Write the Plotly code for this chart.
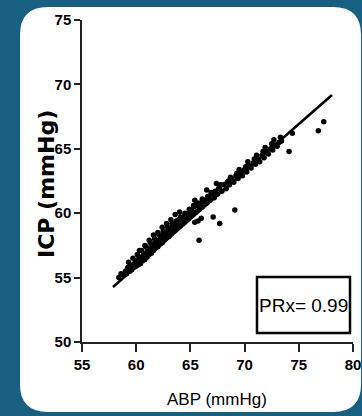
import plotly.graph_objects as go

# ---- data ----
abp = [58.4, 58.6, 58.8, 59.0, 59.1, 59.2, 59.4, 59.5,
       59.6, 59.7, 59.8, 59.9, 60.0, 60.1, 60.2, 60.3, 60.4, 60.5, 60.6, 60.7, 60.8, 60.9, 61.0,
       61.1, 61.2, 61.3, 61.4, 61.5, 61.6, 61.7, 61.8, 61.9, 62.0, 62.1, 62.2, 62.3, 62.4, 62.5,
       62.6, 62.7, 62.8, 62.9, 63.0,
       63.1, 63.2, 63.3, 63.4, 63.5, 63.6, 63.7, 63.8, 63.9, 64.0, 64.2, 64.3, 64.5, 64.6, 64.8, 64.9,
       65.0, 65.2, 65.3, 65.5, 65.6, 65.8, 66.0, 66.1, 66.3, 66.5, 66.6, 66.8, 67.0, 67.2, 67.3, 67.5,
       67.7, 67.9,
       68.1, 68.3, 68.4, 68.6, 68.8, 69.0, 69.2, 69.4, 69.6, 69.8, 70.0, 70.2, 70.4, 70.6, 70.8,
       71.0, 71.2, 71.4, 71.6, 71.8, 72.0, 72.2, 72.4, 72.6, 72.8, 73.0, 73.2, 73.4,
       59.3, 59.7, 60.1, 60.5, 60.9, 61.3, 61.7, 62.1, 62.5, 62.9, 63.3, 63.7, 64.1, 64.5, 64.9,
       65.3, 65.7, 66.1, 66.9, 67.8, 68.7, 69.5, 70.3, 71.1, 71.9, 72.7,
       59.25, 59.55, 60.25, 60.65, 61.05, 61.45, 61.85, 62.25, 62.65, 63.05, 63.45, 63.85, 64.25,
       64.65, 65.1, 65.9, 66.7, 67.6, 68.5, 69.3, 70.1, 70.9, 71.7, 72.5, 73.3,
       60.3, 60.8, 61.2, 61.6, 62.0, 62.4, 62.8, 63.2, 63.6, 64.0,
       65.4, 66.5, 67.4,
       65.8, 65.7, 65.4, 66.0, 67.1, 67.7, 69.1, 74.1, 74.4, 76.8, 77.3]
icp = [55.0, 55.3, 55.2, 55.5, 55.3, 55.7, 55.5, 55.9,
       55.6, 56.0, 55.8, 56.2, 55.9, 56.3, 56.0, 56.5, 56.1, 56.6, 56.3, 56.8, 56.4, 56.9, 56.6,
       57.1, 56.8, 57.3, 56.9, 57.5, 57.1, 57.6, 57.3, 57.8, 57.4, 57.9, 57.6, 58.1, 57.7, 58.3,
       57.9, 58.4, 58.1, 58.6, 58.2,
       58.8, 58.4, 58.9, 58.6, 59.1, 58.8, 59.3, 59.0, 59.5, 59.1, 59.6, 59.3, 59.8, 59.5, 60.0, 59.7,
       60.2, 59.9, 60.5, 60.1, 60.6, 60.3, 60.8, 60.5, 61.0, 60.8, 61.3, 61.0, 61.5, 61.2, 61.7, 61.5,
       62.0, 61.7,
       62.2, 61.9, 62.4, 62.2, 62.7, 62.4, 62.9, 62.7, 63.2, 62.9, 63.4, 63.2, 63.7, 63.5, 63.9,
       63.8, 64.2, 64.0, 64.5, 64.3, 64.8, 64.6, 65.0, 64.9, 65.3, 65.2, 65.5, 65.6,
       56.2, 56.5, 56.8, 57.1, 57.4, 57.7, 58.0, 58.3, 58.6, 58.9, 59.2, 59.4, 59.7, 60.0, 60.3,
       60.6, 60.8, 61.1, 61.6, 62.2, 62.8, 63.4, 64.0, 64.5, 65.1, 65.7,
       55.8, 55.6, 56.6, 56.5, 57.2, 57.1, 57.8, 57.7, 58.4, 58.3, 59.0, 58.9, 59.6,
       59.5, 60.2, 60.6, 61.2, 61.9, 62.5, 63.1, 63.6, 64.2, 64.8, 65.4, 65.9,
       57.1, 57.5, 57.9, 58.3, 58.5, 58.9, 59.2, 59.5, 59.9, 60.1,
       61.0, 61.8, 62.3,
       57.9, 59.4, 59.3, 59.6, 59.7, 59.2, 60.25, 64.8, 66.2, 66.4, 67.1]
fit_x = [57.86, 78.06]
fit_y = [54.27, 69.18]
x_ticks = [55, 60, 65, 70, 75, 80]
y_ticks = [50, 55, 60, 65, 70, 75]
x_title = "ABP (mmHg)"
y_title = "ICP (mmHg)"
prx_label = "PRx= 0.99"

# ---- layout geometry (pixels) ----
W, H = 362, 416
L, R, T, B = 82, 9, 20, 74
PW, PH = W - L - R, H - T - B


def px(x):
    return (x - L) / PW


def py(y):
    return (H - B - y) / PH


BLUE = "rgb(24,96,129)"
SANS = "Liberation Sans, Arial, sans-serif"

fig = go.Figure()
fig.add_trace(go.Scatter(x=abp, y=icp, mode="markers",
                         marker=dict(color="black", size=5.5, line=dict(width=0)),
                         showlegend=False, hoverinfo="skip"))
fig.add_trace(go.Scatter(x=fit_x, y=fit_y, mode="lines",
                         line=dict(color="black", width=2.5),
                         showlegend=False, hoverinfo="skip"))

# rounded white card
x0, x1, yt, yb, r = 20, 361, 7, 412, 28
rx, ry = r / PW, r / PH
X0, X1, YT, YB = px(x0), px(x1), py(yt), py(yb)
card = (f"M {X0+rx},{YT} L {X1-rx},{YT} Q {X1},{YT} {X1},{YT-ry} "
        f"L {X1},{YB+ry} Q {X1},{YB} {X1-rx},{YB} "
        f"L {X0+rx},{YB} Q {X0},{YB} {X0},{YB+ry} "
        f"L {X0},{YT-ry} Q {X0},{YT} {X0+rx},{YT} Z")

shapes = [
    dict(type="path", path=card, xref="paper", yref="paper",
         fillcolor="white", line=dict(width=0), layer="below"),
    dict(type="rect", xref="paper", yref="paper",
         x0=px(257), x1=px(350), y0=py(333), y1=py(277),
         line=dict(color="black", width=2.5), fillcolor="white", layer="above"),
]

annotations = [
    dict(text=prx_label, xref="paper", yref="paper", x=px(303.5), y=py(305),
         showarrow=False, font=dict(family=SANS, size=19, color="black"),
         xanchor="center", yanchor="middle"),
    dict(text=x_title, xref="paper", yref="paper", x=px(217), y=py(399),
         showarrow=False, font=dict(family=SANS, size=17, color="black"),
         xanchor="center", yanchor="middle"),
    dict(text=f"<b>{y_title}</b>", xref="paper", yref="paper", x=px(46), y=py(184),
         showarrow=False, textangle=-90,
         font=dict(family="DejaVu Sans, Liberation Sans, sans-serif", size=22, color="black"),
         xanchor="center", yanchor="middle"),
]

axis_common = dict(showgrid=False, zeroline=False, showline=True, automargin=False,
                   linecolor="#222", linewidth=1.5, ticks="outside",
                   tickcolor="#222", tickwidth=1.5, mirror=False,
                   tickfont=dict(family=SANS, size=15, color="black"))

fig.update_layout(
    width=W, height=H,
    margin=dict(l=L, r=R, t=T, b=B, pad=0, autoexpand=False),
    paper_bgcolor=BLUE, plot_bgcolor="rgba(0,0,0,0)",
    shapes=shapes, annotations=annotations,
    xaxis=dict(range=[55, 80], tickvals=x_ticks, ticktext=[f"<b>{v}</b>" for v in x_ticks],
               ticklen=8, **axis_common),
    yaxis=dict(range=[50, 75], tickvals=y_ticks, ticktext=[f"<b>{v}</b>" for v in y_ticks],
               ticklen=6, **axis_common),
)

fig.write_html("out.html")
